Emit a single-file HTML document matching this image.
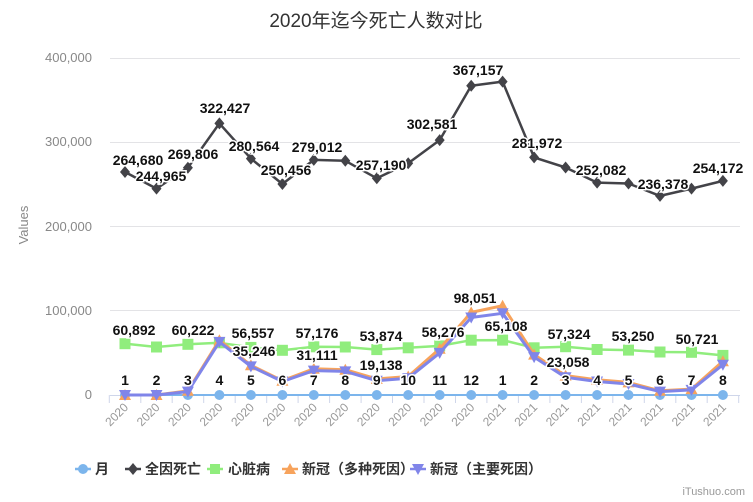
<!DOCTYPE html>
<html><head><meta charset="utf-8"><style>
html,body{margin:0;padding:0;background:#fff;overflow:hidden;}
svg{display:block;font-family:"Liberation Sans","Noto Sans CJK SC",sans-serif;}
.l{font-size:14px;font-weight:bold;fill:#111;text-anchor:middle;stroke:#fff;stroke-width:3px;paint-order:stroke;}
.x{font-size:12px;fill:#999;text-anchor:end;}
</style></head><body>
<svg width="753" height="502" viewBox="0 0 753 502" xmlns="http://www.w3.org/2000/svg">
<defs>
<marker id="mc" markerUnits="userSpaceOnUse" markerWidth="12" markerHeight="12" refX="6" refY="6" overflow="visible"><circle cx="6" cy="6" r="5" fill="#7cb5ec"/></marker>
<marker id="md" markerUnits="userSpaceOnUse" markerWidth="12" markerHeight="14" refX="6" refY="7" overflow="visible"><path d="M6,1 L11,7 L6,13 L1,7Z" fill="#434348"/></marker>
<marker id="ms" markerUnits="userSpaceOnUse" markerWidth="12" markerHeight="12" refX="6" refY="6" overflow="visible"><rect x="0.5" y="0.5" width="11" height="11" fill="#90ed7d"/></marker>
<marker id="mt" markerUnits="userSpaceOnUse" markerWidth="12" markerHeight="12" refX="6" refY="6" overflow="visible"><path d="M0,11 L6,0 L12,11Z" fill="#f7a35c"/></marker>
<marker id="mv" markerUnits="userSpaceOnUse" markerWidth="12" markerHeight="12" refX="6" refY="6" overflow="visible"><path d="M0,1 L6,12 L12,1Z" fill="#8085e9"/></marker>
</defs>
<text x="376" y="27" text-anchor="middle" font-size="19" fill="#333">2020年迄今死亡人数对比</text>
<text x="28" y="225" text-anchor="middle" font-size="13" fill="#888" transform="rotate(-90 28 225)">Values</text>
<g font-size="13" fill="#888" text-anchor="end">
<text x="92" y="399">0</text><text x="92" y="315">100,000</text><text x="92" y="231">200,000</text><text x="92" y="146">300,000</text><text x="92" y="62">400,000</text>
</g>
<g stroke="#e3e3e6" stroke-width="1">
<line x1="110" x2="740" y1="310.5" y2="310.5"/><line x1="110" x2="740" y1="226.5" y2="226.5"/><line x1="110" x2="740" y1="142.5" y2="142.5"/><line x1="110" x2="740" y1="58.5" y2="58.5"/>
</g>
<line x1="110" x2="740" y1="395.5" y2="395.5" stroke="#cfd6ea"/>
<path stroke="#cfd6ea" d="M109.3,395v8M140.8,395v8M172.2,395v8M203.7,395v8M235.2,395v8M266.7,395v8M298.1,395v8M329.6,395v8M361.1,395v8M392.5,395v8M424,395v8M455.5,395v8M486.9,395v8M518.4,395v8M549.9,395v8M581.4,395v8M612.8,395v8M644.3,395v8M675.8,395v8M707.2,395v8M738.7,395v8"/>
<g class="x">
<text x="129" y="408" transform="rotate(-45 129 408)">2020</text>
<text x="160.5" y="408" transform="rotate(-45 160.5 408)">2020</text>
<text x="191.9" y="408" transform="rotate(-45 191.9 408)">2020</text>
<text x="223.4" y="408" transform="rotate(-45 223.4 408)">2020</text>
<text x="254.9" y="408" transform="rotate(-45 254.9 408)">2020</text>
<text x="286.4" y="408" transform="rotate(-45 286.4 408)">2020</text>
<text x="317.8" y="408" transform="rotate(-45 317.8 408)">2020</text>
<text x="349.3" y="408" transform="rotate(-45 349.3 408)">2020</text>
<text x="380.8" y="408" transform="rotate(-45 380.8 408)">2020</text>
<text x="412.2" y="408" transform="rotate(-45 412.2 408)">2020</text>
<text x="443.7" y="408" transform="rotate(-45 443.7 408)">2020</text>
<text x="475.2" y="408" transform="rotate(-45 475.2 408)">2020</text>
<text x="506.6" y="408" transform="rotate(-45 506.6 408)">2021</text>
<text x="538.1" y="408" transform="rotate(-45 538.1 408)">2021</text>
<text x="569.6" y="408" transform="rotate(-45 569.6 408)">2021</text>
<text x="601.1" y="408" transform="rotate(-45 601.1 408)">2021</text>
<text x="632.5" y="408" transform="rotate(-45 632.5 408)">2021</text>
<text x="664" y="408" transform="rotate(-45 664 408)">2021</text>
<text x="695.5" y="408" transform="rotate(-45 695.5 408)">2021</text>
<text x="726.9" y="408" transform="rotate(-45 726.9 408)">2021</text>
</g>
<g fill="none" stroke-linejoin="round">
<polyline stroke="#7cb5ec" stroke-width="2" marker-start="url(#mc)" marker-mid="url(#mc)" marker-end="url(#mc)" points="125,395 156.5,395 187.9,395 219.4,395 250.9,395 282.4,395 313.8,395 345.3,395 376.8,395 408.2,395 439.7,395 471.2,395 502.6,395 534.1,395 565.6,395 597.1,395 628.5,395 660,395 691.5,395 722.9,395"/>
<polyline stroke="#90ed7d" stroke-width="2.5" marker-start="url(#ms)" marker-mid="url(#ms)" marker-end="url(#ms)" points="125,343.7 156.5,347 187.9,344.3 219.4,342.8 250.9,347.4 282.4,350.3 313.8,346.8 345.3,347 376.8,349.6 408.2,347.8 439.7,345.9 471.2,340.2 502.6,340.1 534.1,347.8 565.6,346.7 597.1,349.5 628.5,350.1 660,352 691.5,352.3 722.9,355.4"/>
<polyline stroke="#f7a35c" stroke-width="3" marker-start="url(#mt)" marker-mid="url(#mt)" marker-end="url(#mt)" points="125,395 156.5,395 187.9,390.8 219.4,340.2 250.9,365.3 282.4,380.7 313.8,368.8 345.3,369.7 376.8,378.9 408.2,376.5 439.7,348.7 471.2,312.4 502.6,305.7 534.1,354.6 565.6,375.6 597.1,379.8 628.5,382.4 660,390.8 691.5,389.1 722.9,361.3"/>
<polyline stroke="#8085e9" stroke-width="3" marker-start="url(#mv)" marker-mid="url(#mv)" marker-end="url(#mv)" points="125,395 156.5,395 187.9,391.6 219.4,341.9 250.9,366.4 282.4,381.5 313.8,370.6 345.3,371.4 376.8,380.7 408.2,378.2 439.7,352.9 471.2,317.5 502.6,313.3 534.1,357.1 565.6,377.3 597.1,381.5 628.5,384 660,391.6 691.5,389.9 722.9,364.7"/>
<polyline stroke="#434348" stroke-width="2.5" marker-start="url(#md)" marker-mid="url(#md)" marker-end="url(#md)" points="125,172 156.5,188.6 187.9,167.7 219.4,123.4 250.9,158.6 282.4,184 313.8,159.9 345.3,160.8 376.8,178.3 408.2,163.3 439.7,140.1 471.2,85.7 502.6,81.6 534.1,157.4 565.6,167.5 597.1,182.6 628.5,183.5 660,195.9 691.5,188.6 722.9,180.9"/>
</g>
<g class="l">
<text x="138" y="165">264,680</text><text x="161" y="181">244,965</text><text x="193" y="159">269,806</text><text x="225" y="113">322,427</text><text x="254" y="151">280,564</text><text x="286" y="175">250,456</text><text x="317" y="152">279,012</text><text x="381" y="170">257,190</text><text x="432" y="129">302,581</text><text x="478" y="75">367,157</text><text x="537" y="148">281,972</text><text x="601" y="175">252,082</text><text x="663" y="189">236,378</text><text x="718" y="173">254,172</text>
<text x="134" y="335">60,892</text><text x="193" y="335">60,222</text><text x="253" y="338">56,557</text><text x="317" y="338">57,176</text><text x="381" y="341">53,874</text><text x="443" y="337">58,276</text><text x="506" y="331">65,108</text><text x="569" y="339">57,324</text><text x="633" y="341">53,250</text><text x="697" y="344">50,721</text>
<text x="254" y="356">35,246</text><text x="317" y="360">31,111</text><text x="381" y="370">19,138</text><text x="475" y="303">98,051</text><text x="568" y="367">23,058</text>
<text x="125" y="385">1</text><text x="156.5" y="385">2</text><text x="187.9" y="385">3</text><text x="219.4" y="385">4</text><text x="250.9" y="385">5</text><text x="282.4" y="385">6</text><text x="313.8" y="385">7</text><text x="345.3" y="385">8</text><text x="376.8" y="385">9</text><text x="408.2" y="385">10</text><text x="439.7" y="385">11</text><text x="471.2" y="385">12</text><text x="502.6" y="385">1</text><text x="534.1" y="385">2</text><text x="565.6" y="385">3</text><text x="597.1" y="385">4</text><text x="628.5" y="385">5</text><text x="660" y="385">6</text><text x="691.5" y="385">7</text><text x="722.9" y="385">8</text>
</g>
<g stroke-width="2.5">
<line x1="75" x2="91" y1="469" y2="469" stroke="#7cb5ec"/><circle cx="83" cy="469" r="5" fill="#7cb5ec"/>
<line x1="125" x2="141" y1="469" y2="469" stroke="#434348"/><path d="M133,463 L138,469 L133,475 L128,469Z" fill="#434348" stroke="none"/>
<line x1="207" x2="223" y1="469" y2="469" stroke="#90ed7d"/><rect x="210" y="464" width="10" height="10" fill="#90ed7d" stroke="none"/>
<line x1="282" x2="298" y1="469" y2="469" stroke="#f7a35c"/><path d="M284,474 L290,463 L296,474Z" fill="#f7a35c" stroke="none"/>
<line x1="410" x2="426" y1="469" y2="469" stroke="#8085e9"/><path d="M412,464 L418,475 L424,464Z" fill="#8085e9" stroke="none"/>
</g>
<g font-size="14" font-weight="bold" fill="#333">
<text x="95" y="474">月</text><text x="145" y="474">全因死亡</text><text x="228" y="474">心脏病</text><text x="302" y="474">新冠（多种死因）</text><text x="430" y="474">新冠（主要死因）</text>
</g>
<text x="745" y="495" text-anchor="end" font-size="11" fill="#999">iTushuo.com</text>
</svg>
</body></html>
